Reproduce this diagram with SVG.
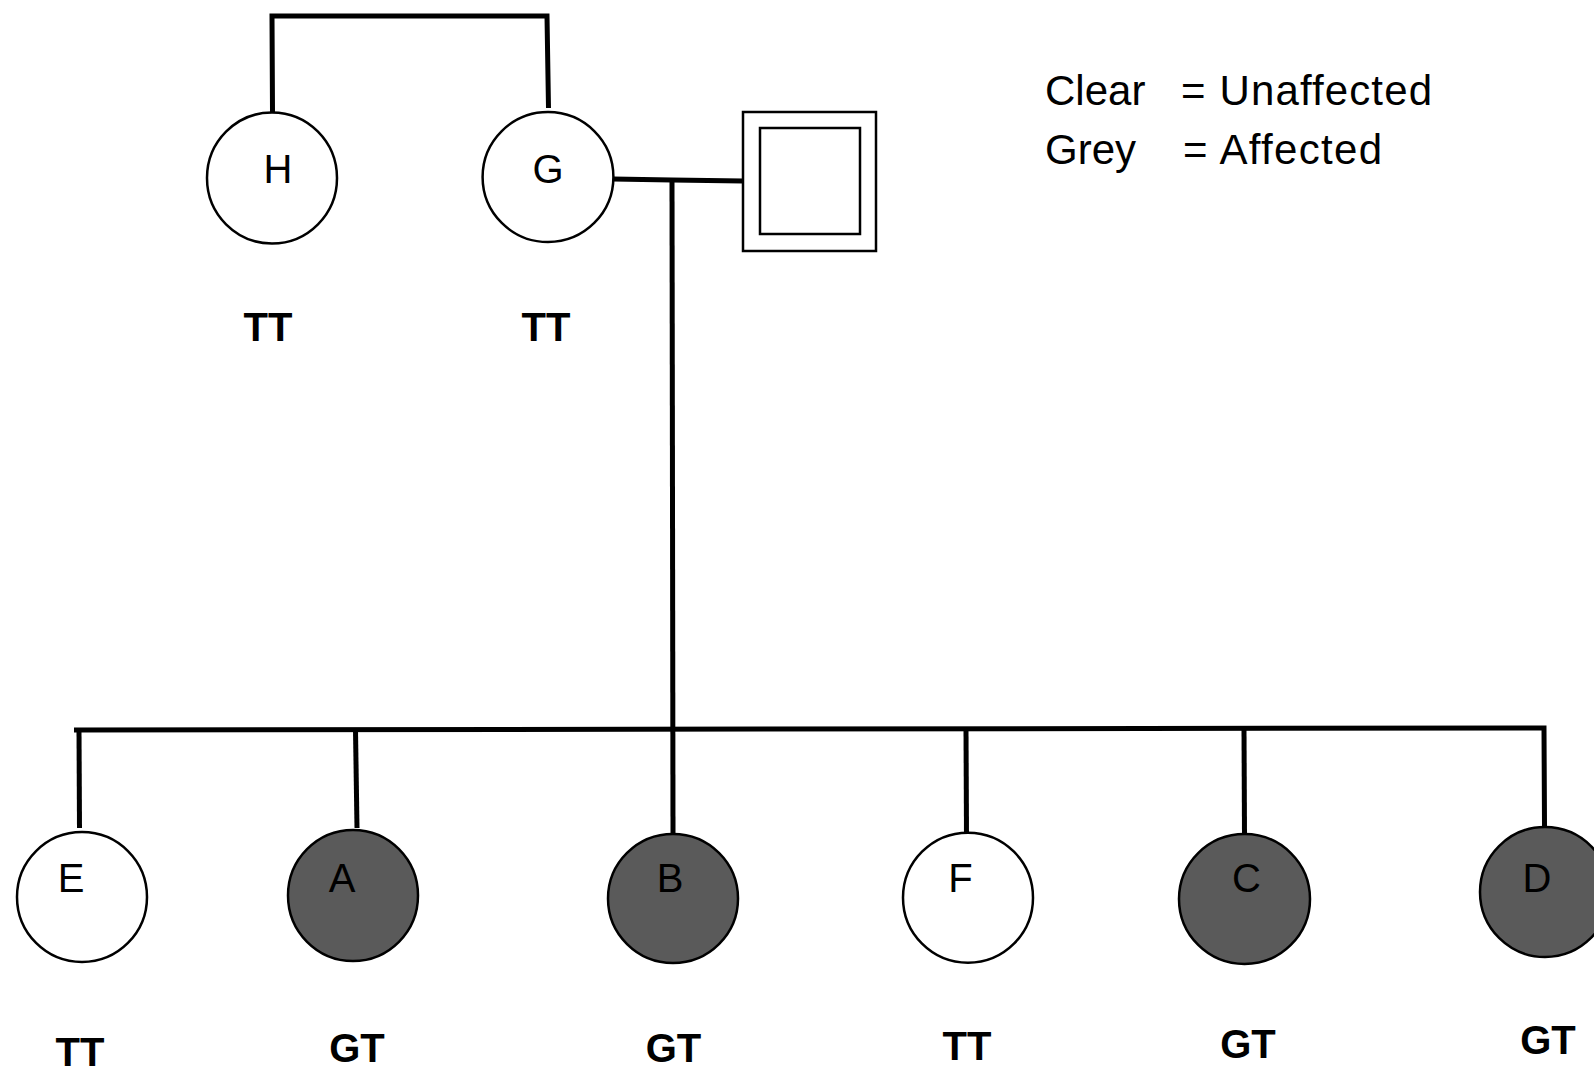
<svg xmlns="http://www.w3.org/2000/svg" width="1594" height="1071" viewBox="0 0 1594 1071">
<style>
.bg{fill:#ffffff}
.ln{stroke:#000;stroke-width:5;fill:none;stroke-linecap:butt}
.clear{fill:#ffffff;stroke:#000;stroke-width:2.5}
.grey{fill:#5a5a5a;stroke:#000;stroke-width:2.5}
.sq{fill:#ffffff;stroke:#000;stroke-width:2.5}
.lbl{font-family:"Liberation Sans",Arial,sans-serif;font-size:40px;fill:#000;text-anchor:middle}
.gt{font-family:"Liberation Sans",Arial,sans-serif;font-size:40px;font-weight:bold;fill:#000;text-anchor:middle}
.leg{font-family:"Liberation Sans",Arial,sans-serif;font-size:42px;fill:#000}
</style>
<rect class="bg" x="0" y="0" width="1594" height="1071"/>
<g id="connectors">
<polyline class="ln" points="272.5,112 272,16 547,16 548.5,108"/>
<polyline class="ln" points="613,179 672,180 743,181"/>
<line class="ln" x1="672" y1="179" x2="673" y2="834"/>
<polyline class="ln" points="74,730 1544,728 1544.5,826"/>
<line class="ln" x1="79" y1="730" x2="79.5" y2="828"/>
<line class="ln" x1="355.5" y1="730" x2="357" y2="828"/>
<line class="ln" x1="966" y1="729" x2="966.5" y2="836"/>
<line class="ln" x1="1244" y1="729" x2="1244.5" y2="835"/>
</g>
<g id="node-H">
<ellipse class="clear" cx="272" cy="178" rx="65" ry="65.5"/>
<text class="lbl" x="278" y="183">H</text>
<text class="gt" x="268" y="341">TT</text>
</g>
<g id="node-G">
<ellipse class="clear" cx="548" cy="177" rx="65.4" ry="65"/>
<text class="lbl" x="548" y="183">G</text>
<text class="gt" x="546" y="341">TT</text>
</g>
<g id="node-spouse">
<rect class="sq" x="743" y="112" width="133" height="139"/>
<rect class="sq" x="760" y="128" width="100" height="106"/>
</g>
<g id="legend">
<text class="leg" x="1045" y="105">Clear</text>
<text class="leg" x="1181" y="105" textLength="251" lengthAdjust="spacing">= Unaffected</text>
<text class="leg" x="1045" y="163.5">Grey</text>
<text class="leg" x="1183" y="163.5" textLength="199" lengthAdjust="spacing">= Affected</text>
</g>
<g id="node-E">
<ellipse class="clear" cx="82" cy="897" rx="65" ry="65"/>
<text class="lbl" x="71" y="892">E</text>
<text class="gt" x="80" y="1066">TT</text>
</g>
<g id="node-A">
<ellipse class="grey" cx="353" cy="895.5" rx="65" ry="65.5"/>
<text class="lbl" x="342" y="892">A</text>
<text class="gt" x="357" y="1062">GT</text>
</g>
<g id="node-B">
<ellipse class="grey" cx="673" cy="898.5" rx="65" ry="64.5"/>
<text class="lbl" x="670" y="892">B</text>
<text class="gt" x="673.5" y="1062">GT</text>
</g>
<g id="node-F">
<ellipse class="clear" cx="968" cy="897.7" rx="65" ry="65"/>
<text class="lbl" x="960.5" y="892">F</text>
<text class="gt" x="967" y="1060">TT</text>
</g>
<g id="node-C">
<ellipse class="grey" cx="1244.5" cy="899" rx="65.5" ry="65"/>
<text class="lbl" x="1246.5" y="892">C</text>
<text class="gt" x="1248" y="1058">GT</text>
</g>
<g id="node-D">
<ellipse class="grey" cx="1545" cy="892" rx="65" ry="65"/>
<text class="lbl" x="1537" y="892">D</text>
<text class="gt" x="1548" y="1054">GT</text>
</g>
</svg>
